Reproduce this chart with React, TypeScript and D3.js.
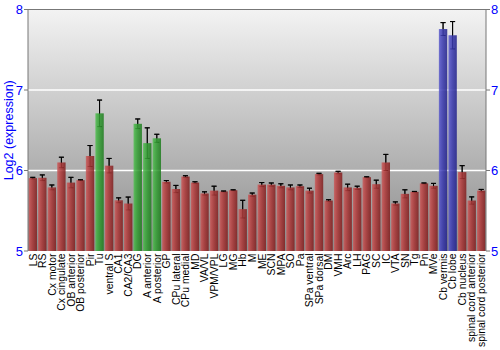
import React from "react";
import * as d3 from "d3";

const categories = ["LS","RS","Cx motor","Cx cingulate","OB anterior","OB posterior","Pir","Tu","ventral S","CA1","CA2/CA3","DG","A anterior","A posterior","GP","CPu lateral","CPu medial","MD","VA/VL","VPM/VPL","LG","MG","Hb","M","ME","SCN","MPA","SO","Pa","SPa ventral","SPa dorsal","DM","VMH","Arc","LH","PAG","SC","IC","VTA","SN","Tg","Pn","MVe","Cb vermis","Cb lobe","Cb nucleus","spinal cord anterior","spinal cord posterior"];
const values = [5.905,5.91,5.79,6.10,5.85,5.88,6.18,6.71,6.06,5.63,5.59,6.58,6.34,6.40,5.86,5.77,5.925,5.85,5.715,5.75,5.74,5.755,5.52,5.70,5.825,5.825,5.81,5.79,5.805,5.75,5.955,5.627,5.975,5.79,5.785,5.917,5.83,6.10,5.59,5.71,5.735,5.84,5.81,7.757,7.68,5.98,5.627,5.75];
const errors = [0.01,0.035,0.03,0.065,0.065,0.005,0.13,0.165,0.09,0.03,0.08,0.06,0.19,0.05,0.015,0.045,0.01,0.01,0.02,0.055,0.005,0.005,0.11,0.02,0.025,0.02,0.025,0.03,0.015,0.03,0.01,0.01,0.015,0.04,0.02,0.005,0.05,0.1,0.02,0.05,0.005,0.005,0.03,0.08,0.17,0.08,0.045,0.015];
const groups = ["r","r","r","r","r","r","r","g","r","r","r","g","g","g","r","r","r","r","r","r","r","r","r","r","r","r","r","r","r","r","r","r","r","r","r","r","r","r","r","r","r","r","r","b","b","r","r","r"];
const yTicks = [5, 6, 7, 8];

const W = 500, H = 350;
const L = 28, R = 486, T = 9.5, B = 251;

export default function App() {
  const x = d3.scaleBand<string>().domain(categories).range([L, R]).paddingInner(0.12).paddingOuter(0.06);
  const y = d3.scaleLinear().domain([5, 8]).range([B, T]);
  const font = "'Liberation Sans', Arial, sans-serif";
  const fills: Record<string, string> = { r: "url(#gr)", g: "url(#gg)", b: "url(#gb)" };
  return (
    <svg width={W} height={H} style={{ position: "absolute", left: 0, top: 0 }} fontFamily={font}>
      <defs>
        <linearGradient id="bg" x1="0" y1="0" x2="0" y2="1">
          <stop offset="0" stopColor="#f3f3f3" />
          <stop offset="1" stopColor="#8c8c8c" />
        </linearGradient>
        <linearGradient id="gr" x1="0" y1="0" x2="1" y2="0">
          <stop offset="0" stopColor="#c86060" />
          <stop offset="0.2" stopColor="#c04848" />
          <stop offset="0.5" stopColor="#a83434" />
          <stop offset="1" stopColor="#7e1c1c" />
        </linearGradient>
        <linearGradient id="gg" x1="0" y1="0" x2="1" y2="0">
          <stop offset="0" stopColor="#58c058" />
          <stop offset="0.2" stopColor="#40b040" />
          <stop offset="0.5" stopColor="#2f9a2f" />
          <stop offset="1" stopColor="#1c7a1c" />
        </linearGradient>
        <linearGradient id="gb" x1="0" y1="0" x2="1" y2="0">
          <stop offset="0" stopColor="#6060cc" />
          <stop offset="0.2" stopColor="#4848c0" />
          <stop offset="0.5" stopColor="#3434aa" />
          <stop offset="1" stopColor="#1e1e88" />
        </linearGradient>
      </defs>
      <rect x={L} y={T} width={R - L} height={B - T} fill="url(#bg)" />
      {[6, 7].map((t) => (
        <line key={t} x1={L} x2={R} y1={y(t)} y2={y(t)} stroke="#ffffff" strokeWidth={1.5} />
      ))}
      {categories.map((c, i) => {
        const cx = (x(c) as number) + x.bandwidth() / 2;
        const lo = y(values[i] - errors[i]);
        const hi = y(values[i] + errors[i]);
        return (
          <g key={"e" + c} stroke="#111" strokeWidth={1}>
            <line x1={cx} x2={cx} y1={lo} y2={hi} />
            <line x1={cx - 2.5} x2={cx + 2.5} y1={lo} y2={lo} />
            <line x1={cx - 2.5} x2={cx + 2.5} y1={hi} y2={hi} />
          </g>
        );
      })}
      {categories.map((c, i) => (
        <rect key={c} x={x(c)} y={y(values[i])} width={x.bandwidth()} height={B - y(values[i])}
          fill={fills[groups[i]]} fillOpacity={0.85} />
      ))}
      {categories.map((c, i) => {
        const cx = (x(c) as number) + x.bandwidth() / 2;
        const hi = y(values[i] + errors[i]);
        return (
          <g key={"u" + c} stroke="#000" strokeWidth={1}>
            <line x1={cx} x2={cx} y1={y(values[i])} y2={hi} />
            <line x1={cx - 2.5} x2={cx + 2.5} y1={hi} y2={hi} />
          </g>
        );
      })}
      <line x1={L} x2={R} y1={T} y2={T} stroke="#777" />
      <line x1={L} x2={L} y1={T} y2={B} stroke="#777" />
      <line x1={R} x2={R} y1={T} y2={B} stroke="#777" />
      {yTicks.map((t) => (
        <g key={"t" + t}>
          <line x1={L - 4} x2={L} y1={y(t)} y2={y(t)} stroke="#777" />
          <line x1={R} x2={R + 4} y1={y(t)} y2={y(t)} stroke="#777" />
          <text x={L - 5} y={y(t)} dy="0.35em" textAnchor="end" fontSize={13} fill="#0000ff">{t}</text>
          <text x={R + 5} y={y(t)} dy="0.35em" textAnchor="start" fontSize={13} fill="#0000ff">{t}</text>
        </g>
      ))}
      <text transform={`translate(13,${(T + B) / 2}) rotate(-90)`} textAnchor="middle" fontSize={12.5} fill="#0000ff">Log2 (expression)</text>
      {categories.map((c) => {
        const cx = (x(c) as number) + x.bandwidth() / 2;
        return (
          <text key={"l" + c} transform={`translate(${cx},${B + 2.5}) rotate(-90)`} textAnchor="end" dy="0.36em" fontSize={10.4} fill="#000">{c}</text>
        );
      })}
    </svg>
  );
}
